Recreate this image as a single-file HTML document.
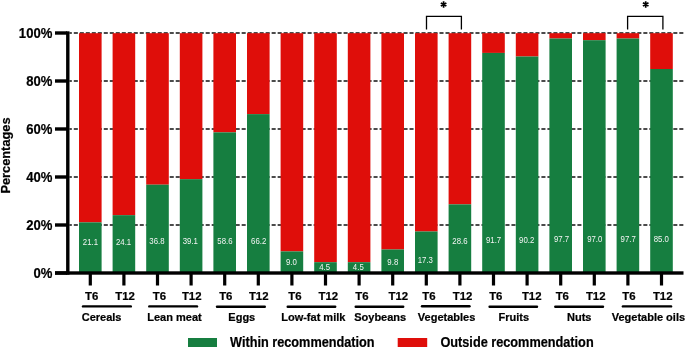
<!DOCTYPE html><html><head><meta charset="utf-8"><style>html,body{margin:0;padding:0;background:#fff;}svg{display:block;will-change:transform;}text{font-family:"Liberation Sans",sans-serif;}text[font-weight=bold]{stroke:#000;stroke-width:0.22px;}</style></head><body>
<svg width="685" height="348" viewBox="0 0 685 348">
<line x1="69.4" y1="225.0" x2="683.5" y2="225.0" stroke="#111" stroke-width="1.5" stroke-dasharray="4.05 1.945" stroke-dashoffset="1.595"/>
<line x1="69.4" y1="177.0" x2="683.5" y2="177.0" stroke="#111" stroke-width="1.5" stroke-dasharray="4.05 1.945" stroke-dashoffset="1.595"/>
<line x1="69.4" y1="129.0" x2="683.5" y2="129.0" stroke="#111" stroke-width="1.5" stroke-dasharray="4.05 1.945" stroke-dashoffset="1.595"/>
<line x1="69.4" y1="81.0" x2="683.5" y2="81.0" stroke="#111" stroke-width="1.5" stroke-dasharray="4.05 1.945" stroke-dashoffset="1.595"/>
<line x1="69.4" y1="33.0" x2="683.5" y2="33.0" stroke="#111" stroke-width="1.5" stroke-dasharray="4.05 1.945" stroke-dashoffset="1.595"/>
<rect x="79.00" y="33.2" width="22.6" height="189.16" fill="#df0e0a"/>
<rect x="79.00" y="222.36" width="22.6" height="50.64" fill="#167e40"/>
<rect x="112.60" y="33.2" width="22.6" height="181.96" fill="#df0e0a"/>
<rect x="112.60" y="215.16" width="22.6" height="57.84" fill="#167e40"/>
<rect x="146.20" y="33.2" width="22.6" height="151.48" fill="#df0e0a"/>
<rect x="146.20" y="184.68" width="22.6" height="88.32" fill="#167e40"/>
<rect x="179.80" y="33.2" width="22.6" height="145.96" fill="#df0e0a"/>
<rect x="179.80" y="179.16" width="22.6" height="93.84" fill="#167e40"/>
<rect x="213.40" y="33.2" width="22.6" height="99.16" fill="#df0e0a"/>
<rect x="213.40" y="132.36" width="22.6" height="140.64" fill="#167e40"/>
<rect x="247.00" y="33.2" width="22.6" height="80.92" fill="#df0e0a"/>
<rect x="247.00" y="114.12" width="22.6" height="158.88" fill="#167e40"/>
<rect x="280.60" y="33.2" width="22.6" height="218.20" fill="#df0e0a"/>
<rect x="280.60" y="251.40" width="22.6" height="21.60" fill="#167e40"/>
<rect x="314.20" y="33.2" width="22.6" height="229.00" fill="#df0e0a"/>
<rect x="314.20" y="262.20" width="22.6" height="10.80" fill="#167e40"/>
<rect x="347.80" y="33.2" width="22.6" height="229.00" fill="#df0e0a"/>
<rect x="347.80" y="262.20" width="22.6" height="10.80" fill="#167e40"/>
<rect x="381.40" y="33.2" width="22.6" height="216.28" fill="#df0e0a"/>
<rect x="381.40" y="249.48" width="22.6" height="23.52" fill="#167e40"/>
<rect x="415.00" y="33.2" width="22.6" height="198.28" fill="#df0e0a"/>
<rect x="415.00" y="231.48" width="22.6" height="41.52" fill="#167e40"/>
<rect x="448.60" y="33.2" width="22.6" height="171.16" fill="#df0e0a"/>
<rect x="448.60" y="204.36" width="22.6" height="68.64" fill="#167e40"/>
<rect x="482.20" y="33.2" width="22.6" height="19.72" fill="#df0e0a"/>
<rect x="482.20" y="52.92" width="22.6" height="220.08" fill="#167e40"/>
<rect x="515.80" y="33.2" width="22.6" height="23.32" fill="#df0e0a"/>
<rect x="515.80" y="56.52" width="22.6" height="216.48" fill="#167e40"/>
<rect x="549.40" y="33.2" width="22.6" height="5.32" fill="#df0e0a"/>
<rect x="549.40" y="38.52" width="22.6" height="234.48" fill="#167e40"/>
<rect x="583.00" y="33.2" width="22.6" height="7.00" fill="#df0e0a"/>
<rect x="583.00" y="40.20" width="22.6" height="232.80" fill="#167e40"/>
<rect x="616.60" y="33.2" width="22.6" height="5.32" fill="#df0e0a"/>
<rect x="616.60" y="38.52" width="22.6" height="234.48" fill="#167e40"/>
<rect x="650.20" y="33.2" width="22.6" height="35.80" fill="#df0e0a"/>
<rect x="650.20" y="69.00" width="22.6" height="204.00" fill="#167e40"/>
<rect x="66.1" y="31.3" width="3.4" height="243.4" fill="#000"/>
<rect x="55" y="271.3" width="628.5" height="3.4" fill="#000"/>
<rect x="55" y="271.3" width="12" height="3.4" fill="#000"/>
<rect x="55" y="223.3" width="12" height="3.4" fill="#000"/>
<rect x="55" y="175.3" width="12" height="3.4" fill="#000"/>
<rect x="55" y="127.3" width="12" height="3.4" fill="#000"/>
<rect x="55" y="79.3" width="12" height="3.4" fill="#000"/>
<rect x="55" y="31.3" width="12" height="3.4" fill="#000"/>
<rect x="88.70" y="273" width="3.2" height="12.5" fill="#000"/>
<rect x="122.30" y="273" width="3.2" height="12.5" fill="#000"/>
<rect x="155.90" y="273" width="3.2" height="12.5" fill="#000"/>
<rect x="189.50" y="273" width="3.2" height="12.5" fill="#000"/>
<rect x="223.10" y="273" width="3.2" height="12.5" fill="#000"/>
<rect x="256.70" y="273" width="3.2" height="12.5" fill="#000"/>
<rect x="290.30" y="273" width="3.2" height="12.5" fill="#000"/>
<rect x="323.90" y="273" width="3.2" height="12.5" fill="#000"/>
<rect x="357.50" y="273" width="3.2" height="12.5" fill="#000"/>
<rect x="391.10" y="273" width="3.2" height="12.5" fill="#000"/>
<rect x="424.70" y="273" width="3.2" height="12.5" fill="#000"/>
<rect x="458.30" y="273" width="3.2" height="12.5" fill="#000"/>
<rect x="491.90" y="273" width="3.2" height="12.5" fill="#000"/>
<rect x="525.50" y="273" width="3.2" height="12.5" fill="#000"/>
<rect x="559.10" y="273" width="3.2" height="12.5" fill="#000"/>
<rect x="592.70" y="273" width="3.2" height="12.5" fill="#000"/>
<rect x="626.30" y="273" width="3.2" height="12.5" fill="#000"/>
<rect x="659.90" y="273" width="3.2" height="12.5" fill="#000"/>
<text transform="translate(52.3,277.6) scale(0.915,1)" font-size="14.3" font-weight="bold" text-anchor="end">0%</text>
<text transform="translate(52.3,229.6) scale(0.915,1)" font-size="14.3" font-weight="bold" text-anchor="end">20%</text>
<text transform="translate(52.3,181.6) scale(0.915,1)" font-size="14.3" font-weight="bold" text-anchor="end">40%</text>
<text transform="translate(52.3,133.6) scale(0.915,1)" font-size="14.3" font-weight="bold" text-anchor="end">60%</text>
<text transform="translate(52.3,85.6) scale(0.915,1)" font-size="14.3" font-weight="bold" text-anchor="end">80%</text>
<text transform="translate(52.3,37.6) scale(0.915,1)" font-size="14.3" font-weight="bold" text-anchor="end">100%</text>
<text transform="translate(10.1,155.5) rotate(-90)" font-size="12.8" font-weight="bold" text-anchor="middle">Percentages</text>
<text transform="translate(90.40,245.0) scale(0.93,1)" font-size="8.4" fill="#f4f4f4" text-anchor="middle">21.1</text>
<text transform="translate(123.55,245.0) scale(0.93,1)" font-size="8.4" fill="#f4f4f4" text-anchor="middle">24.1</text>
<text transform="translate(156.95,243.6) scale(0.93,1)" font-size="8.4" fill="#f4f4f4" text-anchor="middle">36.8</text>
<text transform="translate(190.35,243.6) scale(0.93,1)" font-size="8.4" fill="#f4f4f4" text-anchor="middle">39.1</text>
<text transform="translate(224.90,243.6) scale(0.93,1)" font-size="8.4" fill="#f4f4f4" text-anchor="middle">58.6</text>
<text transform="translate(258.70,243.5) scale(0.93,1)" font-size="8.4" fill="#f4f4f4" text-anchor="middle">66.2</text>
<text transform="translate(291.35,264.9) scale(0.93,1)" font-size="8.4" fill="#f4f4f4" text-anchor="middle">9.0</text>
<text transform="translate(324.60,269.6) scale(0.93,1)" font-size="8.4" fill="#f4f4f4" text-anchor="middle">4.5</text>
<text transform="translate(358.30,269.8) scale(0.93,1)" font-size="8.4" fill="#f4f4f4" text-anchor="middle">4.5</text>
<text transform="translate(392.80,264.9) scale(0.93,1)" font-size="8.4" fill="#f4f4f4" text-anchor="middle">9.8</text>
<text transform="translate(425.35,263.4) scale(0.93,1)" font-size="8.4" fill="#f4f4f4" text-anchor="middle">17.3</text>
<text transform="translate(459.95,243.8) scale(0.93,1)" font-size="8.4" fill="#f4f4f4" text-anchor="middle">28.6</text>
<text transform="translate(493.60,243.3) scale(0.93,1)" font-size="8.4" fill="#f4f4f4" text-anchor="middle">91.7</text>
<text transform="translate(526.65,243.3) scale(0.93,1)" font-size="8.4" fill="#f4f4f4" text-anchor="middle">90.2</text>
<text transform="translate(561.55,242.0) scale(0.93,1)" font-size="8.4" fill="#f4f4f4" text-anchor="middle">97.7</text>
<text transform="translate(594.75,242.0) scale(0.93,1)" font-size="8.4" fill="#f4f4f4" text-anchor="middle">97.0</text>
<text transform="translate(628.15,242.0) scale(0.93,1)" font-size="8.4" fill="#f4f4f4" text-anchor="middle">97.7</text>
<text transform="translate(661.30,242.0) scale(0.93,1)" font-size="8.4" fill="#f4f4f4" text-anchor="middle">85.0</text>
<text x="91.60" y="300" font-size="11.4" font-weight="bold" text-anchor="middle">T6</text>
<text x="125.00" y="300" font-size="11.4" font-weight="bold" text-anchor="middle">T12</text>
<text x="159.50" y="300" font-size="11.4" font-weight="bold" text-anchor="middle">T6</text>
<text x="191.70" y="300" font-size="11.4" font-weight="bold" text-anchor="middle">T12</text>
<text x="225.80" y="300" font-size="11.4" font-weight="bold" text-anchor="middle">T6</text>
<text x="258.70" y="300" font-size="11.4" font-weight="bold" text-anchor="middle">T12</text>
<text x="294.90" y="300" font-size="11.4" font-weight="bold" text-anchor="middle">T6</text>
<text x="328.40" y="300" font-size="11.4" font-weight="bold" text-anchor="middle">T12</text>
<text x="362.00" y="300" font-size="11.4" font-weight="bold" text-anchor="middle">T6</text>
<text x="398.40" y="300" font-size="11.4" font-weight="bold" text-anchor="middle">T12</text>
<text x="428.90" y="300" font-size="11.4" font-weight="bold" text-anchor="middle">T6</text>
<text x="462.50" y="300" font-size="11.4" font-weight="bold" text-anchor="middle">T12</text>
<text x="495.80" y="300" font-size="11.4" font-weight="bold" text-anchor="middle">T6</text>
<text x="531.70" y="300" font-size="11.4" font-weight="bold" text-anchor="middle">T12</text>
<text x="562.30" y="300" font-size="11.4" font-weight="bold" text-anchor="middle">T6</text>
<text x="595.70" y="300" font-size="11.4" font-weight="bold" text-anchor="middle">T12</text>
<text x="628.90" y="300" font-size="11.4" font-weight="bold" text-anchor="middle">T6</text>
<text x="662.70" y="300" font-size="11.4" font-weight="bold" text-anchor="middle">T12</text>
<line x1="83.00" y1="306.4" x2="130.80" y2="306.4" stroke="#000" stroke-width="2.4" stroke-linecap="round"/>
<text x="101.60" y="321.1" font-size="11" font-weight="bold" text-anchor="middle">Cereals</text>
<line x1="149.30" y1="306.4" x2="197.00" y2="306.4" stroke="#000" stroke-width="2.4" stroke-linecap="round"/>
<text x="174.50" y="321.1" font-size="11" font-weight="bold" text-anchor="middle">Lean meat</text>
<line x1="217.00" y1="306.8" x2="264.80" y2="306.8" stroke="#000" stroke-width="2.4" stroke-linecap="round"/>
<text x="241.80" y="321.1" font-size="11" font-weight="bold" text-anchor="middle">Eggs</text>
<line x1="287.70" y1="306.8" x2="335.20" y2="306.8" stroke="#000" stroke-width="2.4" stroke-linecap="round"/>
<text x="313.30" y="321.1" font-size="11" font-weight="bold" text-anchor="middle">Low-fat milk</text>
<line x1="355.70" y1="306.8" x2="403.20" y2="306.8" stroke="#000" stroke-width="2.4" stroke-linecap="round"/>
<text x="380.20" y="321.1" font-size="11" font-weight="bold" text-anchor="middle">Soybeans</text>
<line x1="422.00" y1="306.3" x2="469.50" y2="306.3" stroke="#000" stroke-width="2.4" stroke-linecap="round"/>
<text x="446.60" y="321.1" font-size="11" font-weight="bold" text-anchor="middle">Vegetables</text>
<line x1="489.60" y1="306.8" x2="537.00" y2="306.8" stroke="#000" stroke-width="2.4" stroke-linecap="round"/>
<text x="513.85" y="321.1" font-size="11" font-weight="bold" text-anchor="middle">Fruits</text>
<line x1="555.30" y1="306.8" x2="603.00" y2="306.8" stroke="#000" stroke-width="2.4" stroke-linecap="round"/>
<text x="579.20" y="321.1" font-size="11" font-weight="bold" text-anchor="middle">Nuts</text>
<line x1="622.90" y1="306.4" x2="671.10" y2="306.4" stroke="#000" stroke-width="2.4" stroke-linecap="round"/>
<text x="648.40" y="321.1" font-size="11" font-weight="bold" text-anchor="middle">Vegetable oils</text>
<rect x="188" y="338" width="29" height="9" fill="#167e40"/>
<text transform="translate(230,346.6) scale(0.925,1)" font-size="13.75" font-weight="bold">Within recommendation</text>
<rect x="397.7" y="338" width="29.5" height="9" fill="#df0e0a"/>
<text transform="translate(440.4,346.6) scale(0.925,1)" font-size="13.75" font-weight="bold">Outside recommendation</text>
<path d="M426.5 29.4 V16.4 H461.4 V29.4" fill="none" stroke="#000" stroke-width="1.3"/>
<path d="M627.6 29.4 V16.4 H662.9 V29.4" fill="none" stroke="#000" stroke-width="1.3"/>
<path d="M443.6 1.30V7.70M440.83 2.90L446.37 6.10M440.83 6.10L446.37 2.90" stroke="#000" stroke-width="1.7" fill="none"/>
<path d="M645.7 1.25V7.65M642.93 2.85L648.47 6.05M642.93 6.05L648.47 2.85" stroke="#000" stroke-width="1.7" fill="none"/>
</svg></body></html>
